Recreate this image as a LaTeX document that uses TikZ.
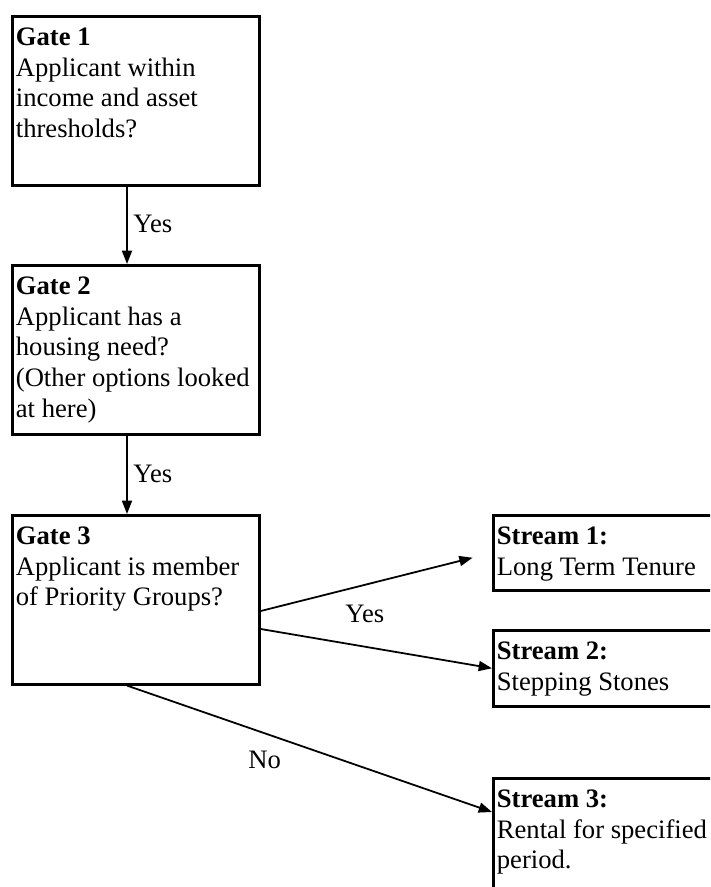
\documentclass[tikz,border=0pt]{standalone}
\usepackage{fontspec}
\setmainfont{Liberation Serif}
\usetikzlibrary{calc,arrows.meta}
\newcommand{\bxt}[3]{\parbox[t][#2][t]{#1}{\raggedright\leftskip=1.6pt\rule{0pt}{13pt}#3}}
\begin{document}
\begin{tikzpicture}[x=0.4505pt,y=-0.4505pt,
  box/.style={draw, line width=1.2pt, anchor=north west, inner sep=0pt,
    font=\fontsize{12}{13.9}\selectfont},
  arr/.style={draw, line width=0.8pt, -{Triangle[length=6pt,width=4.5pt]}},
  lbl/.style={anchor=base west, inner sep=0pt, font=\fontsize{12}{13.9}\selectfont}]
\useasboundingbox (0,0) rectangle (710,887);
\clip (0,0) rectangle (710,887);
\node[box] (g1) at (11,15) {\bxt{111.3pt}{76.1pt}{\textbf{Gate 1}\\Applicant within\\income and asset\\thresholds?}};
\node[box] (g2) at (11,264) {\bxt{111.3pt}{76.1pt}{\textbf{Gate 2}\\Applicant has a\\housing need?\\(Other options looked\\at here)}};
\node[box] (g3) at (11,514) {\bxt{111.3pt}{76.1pt}{\textbf{Gate 3}\\Applicant is member\\of Priority Groups?}};
\node[box] (s1) at (492,514) {\bxt{117pt}{33.8pt}{\textbf{Stream 1:}\\Long Term Tenure}};
\node[box] (s2) at (492,629) {\bxt{117pt}{34.2pt}{\textbf{Stream 2:}\\Stepping Stones}};
\node[box] (s3) at (492,777) {\bxt{117pt}{63pt}{\textbf{Stream 3:}\\Rental for specified\\period.}};
\draw[arr] ($(g1.south west)+(116,0)$) -- ($(g2.north west)+(116,0)$);
\node[lbl] (y1) at (133,232) {Yes};
\draw[arr] ($(g2.south west)+(116,0)$) -- ($(g3.north west)+(116,0)$);
\node[lbl] (y2) at (133,482) {Yes};
\draw[arr, shorten >=9pt] ($(g3.north east)+(0,97)$) -- (s1.west);
\draw[arr] ($(g3.north east)+(0,115)$) -- (s2.west);
\node[lbl] (y3) at (345,622) {Yes};
\draw[arr] ($(g3.south west)+(116,0)$) -- ($(s3.north west)+(0,35)$);
\node[lbl] (n1) at (248,768) {No};
\end{tikzpicture}
\end{document}
